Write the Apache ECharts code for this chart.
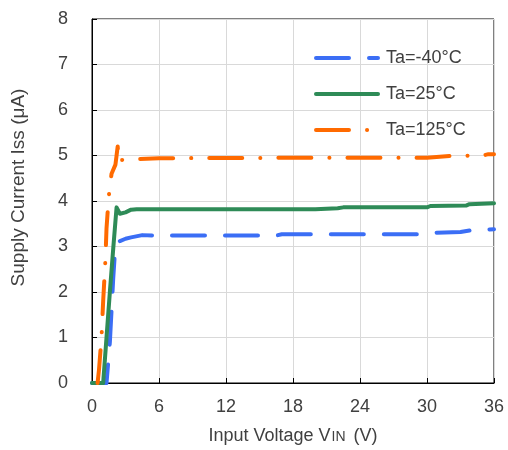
<!DOCTYPE html>
<html><head><meta charset="utf-8">
<script src="https://cdn.jsdelivr.net/npm/echarts@6/dist/echarts.min.js"></script>
<style>html,body{margin:0;padding:0;background:#fff}#c{width:508px;height:450px}</style>
</head><body><div id="c"></div>
<script>
var seriesNames = ['Ta=-40°C', 'Ta=25°C', 'Ta=125°C'];
var xTicks = [0, 6, 12, 18, 24, 30, 36];
var yTicks = [0, 1, 2, 3, 4, 5, 6, 7, 8];
var blueData = [[0,0],[1.3,0],[1.6,0.9],[1.9,2.3],[2.1,3.05],[2.5,3.12],[3.0,3.17],[3.5,3.2],[4.5,3.25],[6,3.24],[12,3.24],[16.5,3.24],[17,3.27],[24,3.27],[29.8,3.27],[30.2,3.3],[33,3.32],[34,3.36],[36,3.38]];
var greenData = [[0,0],[1.0,0],[1.3,1.0],[1.6,2.0],[1.9,2.95],[2.2,3.86],[2.5,3.72],[3.0,3.75],[3.5,3.81],[4,3.82],[12,3.82],[20,3.82],[22,3.84],[22.5,3.86],[30,3.86],[30.3,3.89],[33.5,3.9],[33.8,3.93],[36,3.95]];
var orangeData = [[0.5,0],[0.63,0.3],[0.85,1.0],[1.0,1.8],[1.2,2.7],[1.3,3.4],[1.5,4.1],[1.75,4.6],[2.1,4.8],[2.3,5.2],[2.4,4.85],[2.6,4.9],[4,4.92],[6,4.94],[18,4.95],[30,4.95],[32,4.99],[35,5.0],[35.5,5.03],[36,5.03]];
var colors = ['#3b6ef5', '#2e8b57', '#ff6a00'];

var font = 'Liberation Sans, Arial, sans-serif';
var txt = '#404040';
var chart = echarts.init(document.getElementById('c'), null, {renderer: 'canvas'});
function mk(name, data, color, dash) {
  return {
    name: name, type: 'line', data: data, showSymbol: false, symbol: 'none',
    itemStyle: {color: color},
    lineStyle: {color: color, width: 4, type: dash, cap: 'round', join: 'round'},
    animation: false
  };
}
chart.setOption({
  animation: false,
  grid: {left: 92, right: 14, top: 19, bottom: 65, show: true, borderColor: '#000', borderWidth: 1},
  legend: {
    orient: 'vertical', left: 309, top: 44, itemWidth: 62, itemHeight: 14, itemGap: 18,
    data: seriesNames,
    itemStyle: {opacity: 0},
    lineStyle: {width: 4, cap: 'round'},
    textStyle: {fontFamily: font, fontSize: 18, color: txt, padding: [0, 0, 0, 3]}
  },
  xAxis: {
    type: 'value', min: xTicks[0], max: xTicks[xTicks.length-1], interval: 6,
    name: 'Input Voltage V{s|IN} (V)', nameLocation: 'middle', nameGap: 44,
    nameTextStyle: {fontFamily: font, fontSize: 18, color: txt, rich: {s: {fontFamily: font, fontSize: 14, color: txt, padding: [2, 3, 0, 1]}}},
    axisLine: {lineStyle: {color: '#000', width: 1}},
    axisTick: {inside: true, length: 5, lineStyle: {color: '#000'}},
    axisLabel: {fontFamily: font, fontSize: 18, color: txt, margin: 15},
    splitLine: {show: true, lineStyle: {color: '#d9d9d9', width: 1}}
  },
  yAxis: {
    type: 'value', min: yTicks[0], max: yTicks[yTicks.length-1], interval: 1,
    name: 'Supply Current Iss (μA)', nameLocation: 'middle', nameGap: 64,
    nameTextStyle: {fontFamily: font, fontSize: 19, color: txt, padding: [0, 0, 0, 27]},
    axisLine: {show: true, lineStyle: {color: '#000', width: 1}},
    axisTick: {show: true, inside: true, length: 5, lineStyle: {color: '#000'}},
    axisLabel: {fontFamily: font, fontSize: 18, color: txt, margin: 24},
    splitLine: {show: true, lineStyle: {color: '#d9d9d9', width: 1}}
  },
  series: [
    mk(seriesNames[0], blueData, colors[0], [33, 20]),
    mk(seriesNames[1], greenData, colors[1], 'solid'),
    mk(seriesNames[2], orangeData, colors[2], [33, 18, 0.1, 18])
  ]
});
</script></body></html>
